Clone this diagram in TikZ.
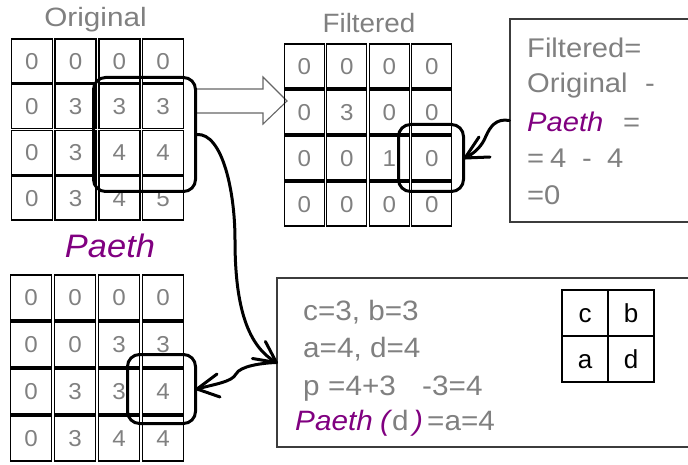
\documentclass[tikz,border=0pt]{standalone}
\usepackage{fontspec}
\setmainfont{Liberation Sans}
\usetikzlibrary{calc}
\definecolor{txtgray}{HTML}{808080}
\definecolor{paeth}{HTML}{800080}
\definecolor{boxline}{HTML}{3C3C3C}
\definecolor{arrowline}{HTML}{666666}
% horizontally widened text
\newcommand\wtx[2][1.08]{\scalebox{#1}[1]{#2}}

\begin{document}
\begin{tikzpicture}[x=1pt,y=-1pt,
  cellbox/.style={draw=black, line width=1.4pt, inner sep=0pt, text=txtgray,
    font=\fontsize{23}{23}\selectfont, text height=16.5pt, text depth=0pt},
  selbox/.style={draw=black, line width=3pt, rounded corners=12pt, inner sep=0pt},
  textbox/.style={draw=boxline, line width=1.2pt, inner sep=0pt},
  gtxt/.style={inner sep=0pt, anchor=base west, text=txtgray},
  ptxt/.style={inner sep=0pt, anchor=base west, text=paeth},
  rfont/.style={font=\fontsize{27}{27}\selectfont},
  bfont/.style={font=\fontsize{28}{28}\selectfont},
  title/.style={inner sep=0pt, anchor=base, text=txtgray, font=\fontsize{26.5}{26.5}\selectfont},
  keycell/.style={draw=black, line width=1.2pt, minimum width=46pt, minimum height=46pt,
    inner sep=0pt, font=\fontsize{26}{26}\selectfont, text height=19pt, text depth=0pt},
  hand/.style={line width=3pt, line cap=round, line join=round}]

\useasboundingbox (0,0) rectangle (688,465);

% hollow block arrow between the first two grids
\draw[draw=arrowline, fill=white, line width=1.1pt, line join=miter]
  (197,89) -- (263,89) -- (263,77) -- (287,101) -- (263,124) -- (263,113) -- (197,113) ;

% titles
\node[title] (tOrig) at (95.5,27) {\wtx[1.12]{Original}};
\node[title] (tFilt) at (369,33) {\wtx[1.05]{Filtered}};
\node[inner sep=0pt, anchor=base, text=paeth, font=\fontsize{32.5}{32.5}\selectfont\itshape]
  (tPaeth) at (110,257) {\wtx[1.06]{Paeth}};

% Original grid
\foreach \row [count=\r] in {{0,0,0,0},{0,3,3,3},{0,3,4,4},{0,3,4,5}} {
  \foreach \v [count=\c] in \row {
    \node[cellbox, minimum width=41pt, minimum height=44pt]
      (o\r\c) at ({10+43.75*(\c-0.5)},{38+45.75*(\r-0.5)}) {\wtx[1.05]{\v}};
  }
}
% Filtered grid
\foreach \row [count=\r] in {{0,0,0,0},{0,3,0,0},{0,0,1,0},{0,0,0,0}} {
  \foreach \v [count=\c] in \row {
    \node[cellbox, minimum width=40pt, minimum height=44pt]
      (f\r\c) at ({283+42.5*(\c-0.5)},{43+46*(\r-0.5)}) {\wtx[1.05]{\v}};
  }
}
% Paeth predictor grid
\foreach \row [count=\r] in {{0,0,0,0},{0,0,3,3},{0,3,3,4},{0,3,4,4}} {
  \foreach \v [count=\c] in \row {
    \node[cellbox, minimum width=41pt, minimum height=45pt]
      (p\r\c) at ({9+44*(\c-0.5)},{274+47*(\r-0.5)}) {\wtx[1.05]{\v}};
  }
}

% selection frames
\node[selbox, minimum width=102pt, minimum height=114pt] (osel) at (144.5,134.5) {};
\node[selbox, minimum width=65pt, minimum height=67pt] (fsel) at (431,158) {};
\node[selbox, minimum width=68pt, minimum height=69pt] (psel) at (161.5,389) {};

% explanation boxes
\node[textbox, minimum width=180pt, minimum height=203pt] (fbox) at (600,120.5) {};
\node[textbox, minimum width=415pt, minimum height=169pt] (pbox) at (484.5,362.5) {};

% filtered = original - paeth
\node[gtxt, rfont] (l1) at (527,58) {\wtx{Filtered=}};
\node[gtxt, rfont] (l2) at (527,93) {\wtx{Original}};
\node[gtxt, rfont] (l2m) at (645,93) {\wtx{-}};
\node[ptxt, font=\fontsize{27}{27}\selectfont\itshape] (l3) at (527,132) {\wtx{Paeth}};
\node[gtxt, rfont] (l3e) at (623,132) {\wtx{=}};
\node[gtxt, rfont] (l4a) at (527,168) {\wtx{=}};
\node[gtxt, rfont] (l4b) at (550,168) {\wtx{4}};
\node[gtxt, rfont] (l4c) at (582,168) {\wtx{-}};
\node[gtxt, rfont] (l4d) at (607,168) {\wtx{4}};
\node[gtxt, rfont] (l5) at (527,205) {\wtx{=0}};

% predictor computation
\node[gtxt, bfont] (m1) at (303,320) {\wtx[1.06]{c=3, b=3}};
\node[gtxt, bfont] (m2) at (303,357) {\wtx[1.06]{a=4, d=4}};
\node[gtxt, bfont] (m3a) at (303,395) {\wtx[1.06]{p}};
\node[gtxt, bfont] (m3b) at (328,395) {\wtx[1.06]{=4+3}};
\node[gtxt, bfont] (m3c) at (422,395) {\wtx[1.06]{-}};
\node[gtxt, bfont] (m3d) at (432,395) {\wtx[1.06]{3=4}};
\node[ptxt, font=\fontsize{28}{28}\selectfont\itshape] (m4a) at (295,430) {\wtx[1.06]{Paeth}};
\node[ptxt, font=\fontsize{28}{28}\selectfont\itshape] (m4b) at (380,430) {\wtx[1.06]{(}};
\node[gtxt, bfont] (m4c) at (392,430) {\wtx[1.06]{d}};
\node[ptxt, font=\fontsize{28}{28}\selectfont\itshape] (m4d) at (413,430) {\wtx[1.06]{)}};
\node[gtxt, bfont] (m4e) at (427,430) {\wtx[1.06]{=a=4}};

% neighbour layout
\node[keycell] (nc) at (585,313) {c};
\node[keycell] (nb) at (631,313) {b};
\node[keycell] (na) at (585,359) {a};
\node[keycell] (nd) at (631,359) {d};

% hand-drawn connectors
\draw[hand] (osel.east) .. controls (222,133) and (235,190) .. (235,240)
  .. controls (235,300) and (245,345) .. (pbox.west);
\draw[hand] (pbox.west) -- ++(-11,-21);
\draw[hand] (pbox.west) -- ++(-24,-4);

\draw[hand] (pbox.west) .. controls (262,363) and (240,366) .. (236,374)
  .. controls (232,382) and (215,384) .. (psel.east);
\draw[hand] (psel.east) -- ++(20,-15);
\draw[hand] (psel.east) -- ++(23,8);

\draw[hand] (fbox.west) .. controls (496,118) and (490,127) .. (486,136)
  .. controls (482,146) and (475,153) .. (fsel.east);
\draw[hand] (fsel.east) -- ++(14,-21);
\draw[hand] (fsel.east) -- ++(25,-1);

\end{tikzpicture}
\end{document}
